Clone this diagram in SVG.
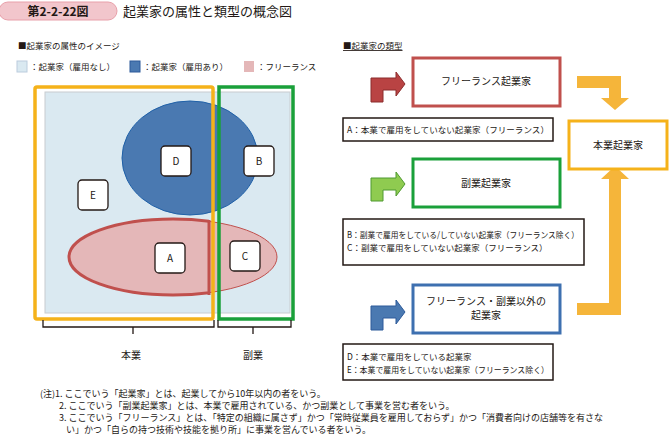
<svg xmlns="http://www.w3.org/2000/svg" width="670" height="444" viewBox="0 0 670 444">
<style>
text{font-family:"Noto Sans CJK JP","Noto Sans",sans-serif;fill:#231815}
.s{font-size:10px}.m{font-size:8.5px}.n{font-size:9px}
.lb{fill:#fff;stroke:#231815;stroke-width:1.3}
.t{text-anchor:middle}
</style>
<defs><clipPath id="cl"><rect x="0" y="0" width="209" height="444"/></clipPath></defs>
<rect x="0" y="0" width="670" height="444" fill="#fff"/>
<g id="header">
<path d="M8,2 H108 A9,9 0 0 1 108,20 H8 A9,9 0 0 1 8,2 Z" fill="#f2c6cc" stroke="#e8a0aa"/>
<text x="58" y="16" class="t" font-size="12" font-weight="bold">第2-2-22図</text>
<text x="123" y="16" font-size="13">起業家の属性と類型の概念図</text>
</g>
<g id="legend">
<text x="18" y="49" class="m">■起業家の属性のイメージ</text>
<rect x="17" y="61" width="10" height="11" fill="#dae9f1" stroke="#bcd"/><text x="30" y="70" class="m">：起業家（雇用なし）</text>
<rect x="130" y="61" width="10" height="11" fill="#4a79b1" stroke="#2c5a9a"/><text x="143" y="70" class="m">：起業家（雇用あり）</text>
<rect x="244" y="61" width="10" height="11" fill="#e4b7b8"/><text x="257" y="70" class="m">：フリーランス</text>
</g>
<g id="venn">
<rect x="45" y="92" width="245" height="221" fill="#dae9f1" stroke="#c8ccd0"/>
<ellipse cx="190" cy="158" rx="68" ry="57" fill="#4a79b1" stroke="#2061a8" stroke-width="1"/>
<ellipse cx="173" cy="257" rx="104" ry="38" fill="#e4b7b8" stroke="#c0504d" stroke-width="1"/>
<path d="M209,220 L209,295" stroke="#c0504d" stroke-width="3"/>
<ellipse cx="173" cy="257" rx="104" ry="38" fill="none" stroke="#c0504d" stroke-width="3" clip-path="url(#cl)"/>
<rect x="35" y="87" width="178" height="232" rx="2" fill="none" stroke="#f5b21a" stroke-width="3.5"/>
<rect x="219" y="87" width="74" height="232" fill="none" stroke="#1aa03a" stroke-width="3.5"/>
</g>
<g id="nodeD"><rect x="161" y="146" width="30" height="30" rx="4" class="lb"/><text x="176" y="165" class="t s">D</text></g>
<g id="nodeB"><rect x="244" y="146" width="30" height="30" rx="4" class="lb"/><text x="259" y="165" class="t s">B</text></g>
<g id="nodeE"><rect x="78" y="180" width="30" height="30" rx="4" class="lb"/><text x="93" y="199" class="t s">E</text></g>
<g id="nodeA"><rect x="155" y="243" width="30" height="30" rx="4" class="lb"/><text x="170" y="262" class="t s">A</text></g>
<g id="nodeC"><rect x="230" y="241" width="30" height="30" rx="4" class="lb"/><text x="245" y="260" class="t s">C</text></g>
<g id="braces" fill="none" stroke="#231815" stroke-width="1.3">
<path d="M43,320 V327 H133 V334 M133,327 H214 V320"/>
<path d="M218,320 V327 H253 V334 M253,327 H291 V320"/>
</g>
<text x="131" y="359" class="t s">本業</text>
<text x="253" y="359" class="t s">副業</text>
<text x="343" y="49" class="m" text-decoration="underline">■起業家の類型</text>
<g id="connectors">
<path d="M371,102 V78 H396 V72 L405,84 L396,96 V90 H383 V102 Z" fill="#b94343" stroke="#8b2d2d"/>
<path d="M371,201 V178 H396 V172 L405,184 L396,196 V190 H383 V201 Z" fill="#8fcb50" stroke="#4f9a30"/>
<path d="M371,330 V306 H396 V300 L405,312 L396,324 V318 H383 V330 Z" fill="#4a79b1" stroke="#2c5a9a"/>
<path d="M577,76 H621 V98 H629 L615,110 L601,98 H609 V88 H577 Z" fill="#f5b53a"/>
<path d="M577,315 H621 V179 H629 L615,166 L601,179 H609 V303 H577 Z" fill="#f5b53a"/>
</g>
<g id="freelance"><rect x="413" y="58" width="147" height="48" fill="#fff" stroke="#c0504d" stroke-width="3"/><text x="486" y="85" class="t s">フリーランス起業家</text></g>
<g id="noteA"><rect x="343" y="118" width="210" height="23" fill="#fff" stroke="#231815" stroke-width="1.5"/><text x="347" y="133" class="m" textLength="202" lengthAdjust="spacingAndGlyphs">A：本業で雇用をしていない起業家（フリーランス）</text></g>
<g id="fukugyo"><rect x="413" y="159" width="147" height="48" fill="#fff" stroke="#1aa03a" stroke-width="3"/><text x="486" y="187" class="t s">副業起業家</text></g>
<g id="noteBC"><rect x="343" y="219" width="241" height="46" fill="#fff" stroke="#231815" stroke-width="1.5"/><text x="347" y="238" class="m" textLength="232" lengthAdjust="spacingAndGlyphs">B：副業で雇用をしている/していない起業家（フリーランス除く）</text><text x="347" y="251" class="m">C：副業で雇用をしていない起業家（フリーランス）</text></g>
<g id="other"><rect x="413" y="285" width="147" height="48" fill="#fff" stroke="#3e70b0" stroke-width="3"/><text x="486" y="305" class="t s">フリーランス・副業以外の</text><text x="486" y="319" class="t s">起業家</text></g>
<g id="noteDE"><rect x="343" y="344" width="210" height="36" fill="#fff" stroke="#231815" stroke-width="1.5"/><text x="347" y="360" class="m">D：本業で雇用をしている起業家</text><text x="347" y="373" class="m" textLength="202" lengthAdjust="spacingAndGlyphs">E：本業で雇用をしていない起業家（フリーランス除く）</text></g>
<g id="hongyo"><rect x="569" y="121" width="98" height="48" fill="#fff" stroke="#f5b21a" stroke-width="3"/><text x="618" y="149" class="t s">本業起業家</text></g>
<g id="notes">
<text x="40" y="397" class="n">(注)1. ここでいう「起業家」とは、起業してから10年以内の者をいう。</text>
<text x="59" y="409" class="n">2. ここでいう「副業起業家」とは、本業で雇用されている、かつ副業として事業を営む者をいう。</text>
<text x="59" y="421" class="n">3. ここでいう「フリーランス」とは、「特定の組織に属さず」かつ「常時従業員を雇用しておらず」かつ「消費者向けの店舗等を有さな</text>
<text x="66" y="433" class="n">い」かつ「自らの持つ技術や技能を拠り所」に事業を営んでいる者をいう。</text>
</g>
</svg>
